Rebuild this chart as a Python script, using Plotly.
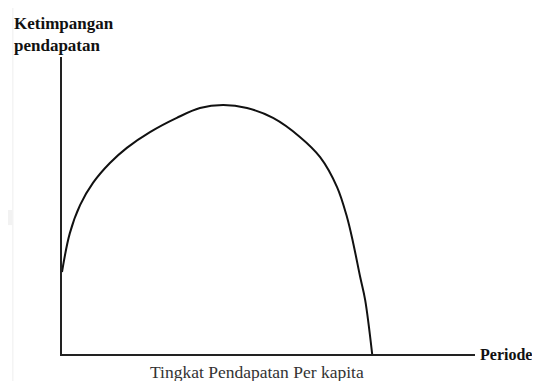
import plotly.graph_objects as go

# Kurva Kuznets (U terbalik)
pendapatan = [0, 1.9, 4.4, 7.5, 11.6, 15.7, 21.3, 27.8, 33.4, 39.0, 44.8,
              51.1, 57.6, 62.5, 66.6, 69.0, 70.5, 72.2, 73.4, 75.1]
ketimpangan = [27.6, 40.7, 50.2, 57.6, 64.3, 69.4, 74.7, 79.5, 82.8, 83.8,
               82.8, 79.5, 73.1, 66.3, 56.2, 46.1, 37.4, 25.9, 18.2, 0]

label_y = "<b>Ketimpangan<br>pendapatan</b>"
label_x = "Tingkat Pendapatan Per kapita"
label_periode = "<b>Periode</b>"

serif = "Liberation Serif, Times New Roman, serif"

fig = go.Figure()
fig.add_trace(go.Scatter(
    x=pendapatan, y=ketimpangan, mode="lines",
    line=dict(color="#111111", width=2, shape="spline", smoothing=1.0),
    hoverinfo="skip", showlegend=False,
))

fig.update_xaxes(range=[0, 100], showline=True, linecolor="#222222", linewidth=2,
                 showgrid=False, zeroline=False, showticklabels=False, ticks="")
fig.update_yaxes(range=[0, 100], showline=True, linecolor="#222222", linewidth=2,
                 showgrid=False, zeroline=False, showticklabels=False, ticks="")

# page body adds 8px offset, so positions are shifted by -8px
fig.add_annotation(text=label_y, x=-0.121, y=1.15, xref="paper", yref="paper",
                   showarrow=False, xanchor="left", yanchor="top", align="left",
                   font=dict(family=serif, size=17, color="#111111"))
fig.add_annotation(text=label_periode, x=1.008, y=0.0, xref="paper", yref="paper",
                   showarrow=False, xanchor="left", yanchor="middle",
                   font=dict(family=serif, size=16, color="#111111"))
fig.add_annotation(text=label_x, x=0.472, y=-0.061, xref="paper", yref="paper",
                   showarrow=False, xanchor="center", yanchor="middle",
                   font=dict(family=serif, size=17.5, color="#333333"))

# garis samar di tepi kiri gambar asli
fig.add_shape(type="line", x0=-0.119, x1=-0.119, y0=-0.12, y1=1.17, xref="paper", yref="paper",
              line=dict(color="#eeeeee", width=1))
fig.add_shape(type="rect", x0=-0.16, x1=-0.119, y0=0.434, y1=0.485, xref="paper", yref="paper",
              line=dict(width=0), fillcolor="#f2f2f2")

fig.update_layout(
    width=540, height=381,
    margin=dict(l=54, r=73, t=49, b=35),
    plot_bgcolor="white", paper_bgcolor="white",
)

fig.write_html("out.html")
